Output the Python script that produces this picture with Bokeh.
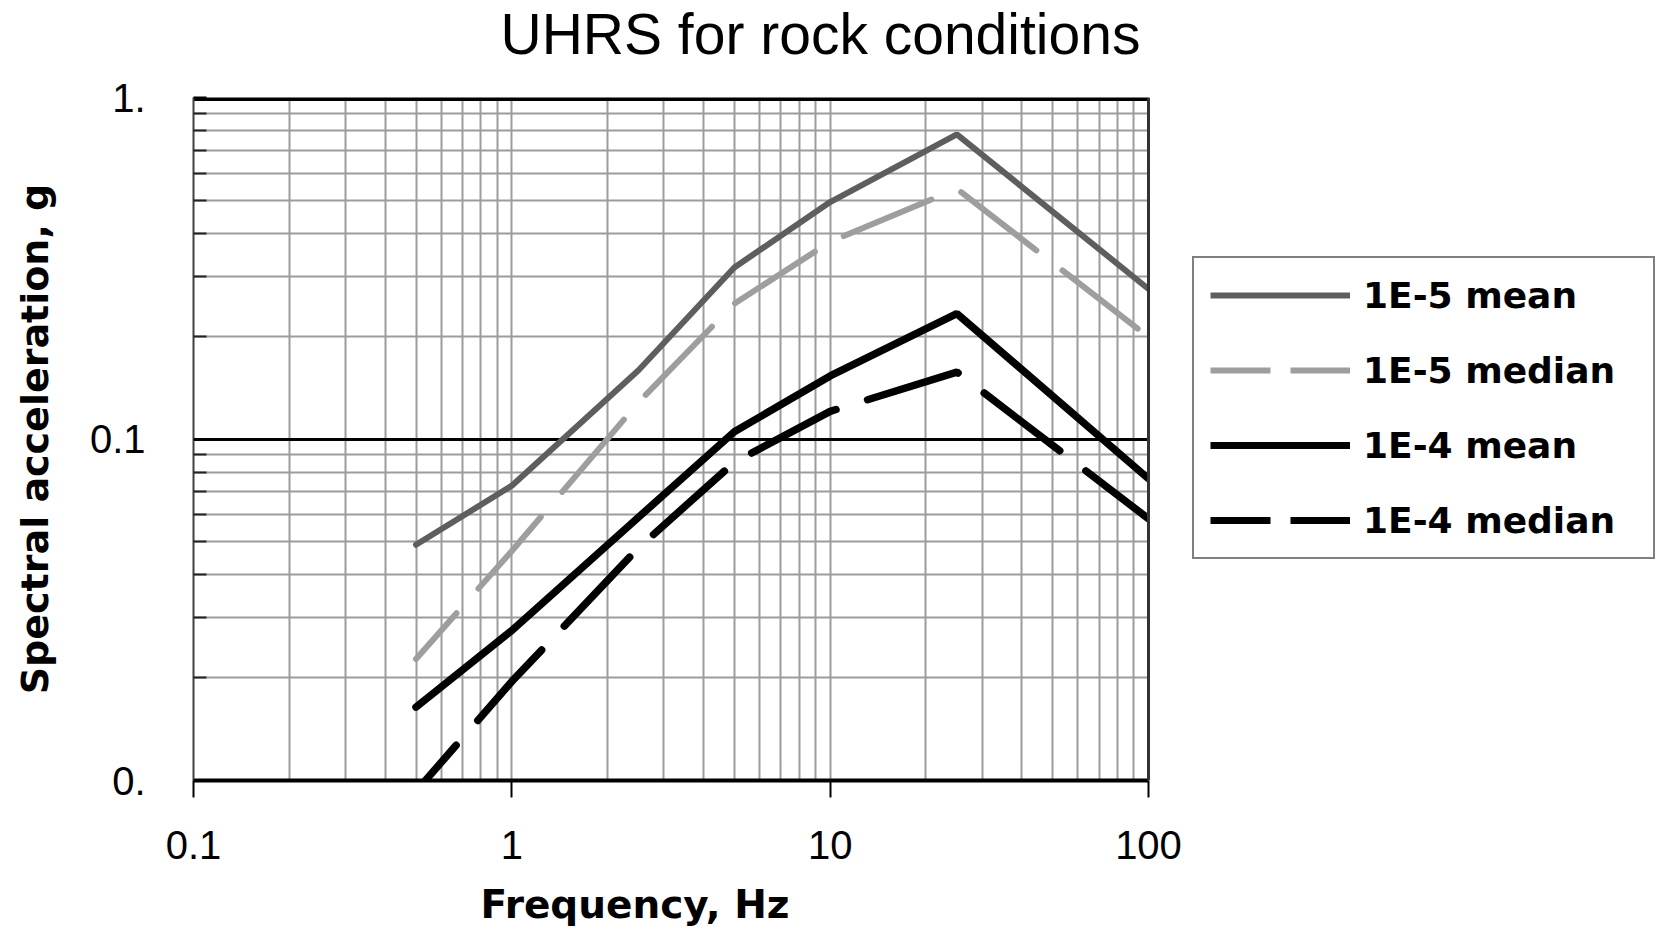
from bokeh.plotting import figure
from bokeh.models import FixedTicker, Legend, LegendItem, Title, BoxAnnotation, Span
from bokeh.embed import file_html
from bokeh.resources import INLINE

# ---- data ----
freq = [0.5, 1.0, 2.5, 5.0, 10.0, 25.0, 100.0]
mean_1e5 = [0.049, 0.073, 0.159, 0.318, 0.494, 0.78, 0.275]
median_1e5 = [0.0227, 0.047, 0.128, 0.249, 0.378, 0.54, 0.199]
mean_1e4 = [0.0164, 0.0275, 0.059, 0.105, 0.153, 0.233, 0.0765]
median_1e4 = [0.0093, 0.0195, 0.048, 0.0855, 0.1205, 0.157, 0.0584]

series_names = ["1E-5 mean", "1E-5 median", "1E-4 mean", "1E-4 median"]
x_tick_values = [0.1, 1.0, 10.0, 100.0]
x_tick_labels = ["0.1", "1", "10", "100"]
y_tick_values = [0.01, 0.1, 1.0]
y_tick_labels = ["0.", "0.1", "1."]
y_dark_grid = [0.1]
title_text = "UHRS for rock conditions"
x_label = "Frequency, Hz"
y_label = "Spectral acceleration, g"

X_MIN, X_MAX = 0.1, 100.0
Y_MIN, Y_MAX = 0.01, 1.0

# minor log gridline positions (2..9 within each decade)
x_minor = [m * 10.0 ** e for e in range(-1, 2) for m in range(2, 10)]
y_minor = [m * 10.0 ** e for e in range(-2, 0) for m in range(2, 10)]

# ---- layout (pixels) ----
W, H = 1658, 935
FRAME_LEFT, PLOT_RIGHT = 193, 1148
TOP, BOTTOM = 97, 155
# the frame runs to the right canvas edge (room for the legend); the
# gridded plot area ends at X_MAX
x_end = X_MAX * 10 ** ((W - PLOT_RIGHT) / ((PLOT_RIGHT - FRAME_LEFT) / 3.0))

GRID = "#9c9c9c"
DARK = "#5e5e5e"
LIGHT = "#9e9e9e"

p = figure(width=W, height=H, x_axis_type="log", y_axis_type="log",
           x_range=(X_MIN, x_end), y_range=(Y_MIN, Y_MAX),
           output_backend="svg", toolbar_location=None,
           min_border_left=FRAME_LEFT, min_border_right=0,
           min_border_top=TOP, min_border_bottom=BOTTOM)
p.background_fill_color = "white"
p.border_fill_color = "white"
p.outline_line_color = None

# spacer between the title and the frame (pushes the title up)
p.add_layout(Title(text=" ", text_font_size="10px", standoff=17), "above")

# title
p.title.text = title_text
p.title.text_font = "Liberation Sans"
p.title.text_font_size = "57px"
p.title.text_font_style = "normal"
p.title.text_color = "black"
p.title.align = "left"
p.title.offset = 307
p.title.vertical_align = "top"
p.title.standoff = 0

# x axis
xt = FixedTicker(ticks=x_tick_values, minor_ticks=x_minor)
xa = p.xaxis[0]
xa.ticker = xt
xa.bounds = (X_MIN, X_MAX)
xa.major_label_overrides = dict(zip(x_tick_values, x_tick_labels))
xa.axis_line_color = "black"
xa.axis_line_width = 4
xa.major_tick_line_color = "black"
xa.major_tick_line_width = 2
xa.major_tick_in = 0
xa.major_tick_out = 17
xa.minor_tick_line_color = None
xa.major_label_text_font = "Liberation Sans"
xa.major_label_text_font_size = "40px"
xa.major_label_text_color = "black"
xa.major_label_standoff = 33

# spacer + x axis title below the axis, positioned like the reference
p.add_layout(Title(text=" ", text_font_size="10px", standoff=7), "below")
xtitle = Title(text=x_label, text_font="DejaVu Sans", text_font_style="bold",
               text_font_size="39px", text_color="black", align="left",
               offset=287, vertical_align="top", standoff=0)
p.add_layout(xtitle, "below")

# y axis
yt = FixedTicker(ticks=y_tick_values, minor_ticks=y_minor)
ya = p.yaxis[0]
ya.ticker = yt
ya.major_label_overrides = dict(zip(y_tick_values, y_tick_labels))
ya.axis_line_color = "#404040"
ya.axis_line_width = 2
ya.major_tick_line_color = "black"
ya.major_tick_line_width = 2
ya.major_tick_in = 13
ya.major_tick_out = 0
ya.minor_tick_line_color = "#222222"
ya.minor_tick_line_width = 2
ya.minor_tick_in = 13
ya.minor_tick_out = 0
ya.major_label_text_font = "Liberation Sans"
ya.major_label_text_font_size = "40px"
ya.major_label_text_color = "black"
ya.major_label_standoff = 48
ya.axis_label = y_label
ya.axis_label_text_font = "DejaVu Sans"
ya.axis_label_text_font_style = "bold"
ya.axis_label_text_font_size = "38px"
ya.axis_label_text_color = "black"
ya.axis_label_standoff = 30

# grids
p.xgrid.ticker = xt
p.xgrid.grid_line_color = GRID
p.xgrid.grid_line_width = 2
p.xgrid.minor_grid_line_color = GRID
p.xgrid.minor_grid_line_width = 2
p.ygrid.ticker = FixedTicker(ticks=y_dark_grid, minor_ticks=y_minor)
p.ygrid.grid_line_color = "black"
p.ygrid.grid_line_width = 3
p.ygrid.minor_grid_line_color = GRID
p.ygrid.minor_grid_line_width = 2

# data lines
p.line(freq, mean_1e5, line_color=DARK, line_width=6, line_cap="round")
p.line(freq, median_1e5, line_color=LIGHT, line_width=6, line_dash="95 33",
       line_dash_offset=34, line_cap="round")
p.line(freq, mean_1e4, line_color="black", line_width=7.5, line_cap="round")
p.line(freq, median_1e4, line_color="black", line_width=7.5, line_dash="95 33",
       line_dash_offset=34, line_cap="round")

# top border of the plot area (clipped to the frame, so only its inner half shows)
p.segment(x0=[X_MIN], y0=[Y_MAX], x1=[X_MAX], y1=[Y_MAX], line_color="black", line_width=7)

# blank out everything right of the plot area (legend zone)
p.add_layout(BoxAnnotation(left=X_MAX, fill_color="white", fill_alpha=1.0, line_color=None))
# right border of the plot area
p.add_layout(Span(location=X_MAX, dimension="height", line_color="#333333", line_width=3))

# legend samples (single-point renderers: shorter dash pattern like the reference legend)
series_vals = [mean_1e5, median_1e5, mean_1e4, median_1e4]
styles = [(DARK, 6, "solid"), (LIGHT, 6, "60 20"), ("black", 7, "solid"), ("black", 7, "60 20")]
leg_renderers = []
for vals, (col, w, dash) in zip(series_vals, styles):
    leg_renderers.append(p.line([freq[0]], [vals[0]], line_color=col, line_width=w,
                                line_dash=dash, line_cap="butt"))

legend = Legend(items=[LegendItem(label=n, renderers=[r]) for n, r in zip(series_names, leg_renderers)],
                location=(999, 221), margin=0, padding=16, spacing=33,
                glyph_width=140, glyph_height=42, label_height=42, label_width=274,
                label_standoff=13,
                label_text_font="DejaVu Sans", label_text_font_style="bold",
                label_text_font_size="36px", label_text_color="black",
                border_line_color="black", border_line_width=2,
                background_fill_color="white", background_fill_alpha=1.0)
p.add_layout(legend, "center")

open("out.html", "w").write(file_html(p, INLINE))
